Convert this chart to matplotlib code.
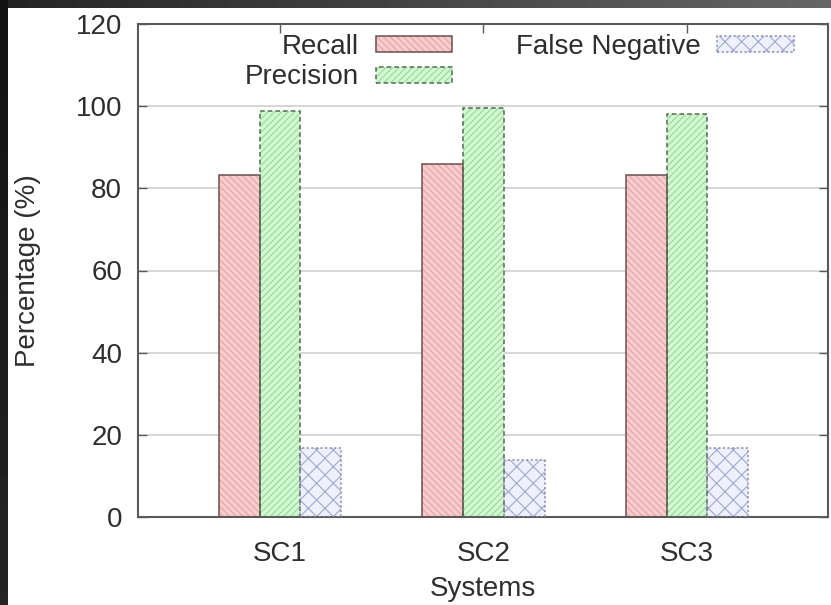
import numpy as np
import matplotlib
matplotlib.use('Agg')
import matplotlib.pyplot as plt
from matplotlib.patches import Patch

# data
systems = ['SC1', 'SC2', 'SC3']
recall = [83.3, 86.0, 83.3]
precision = [98.9, 99.5, 98.1]
false_negative = [16.7, 13.9, 16.7]

series_names = ['Recall', 'Precision', 'False Negative']

plt.rcParams['font.family'] = ['Liberation Sans', 'DejaVu Sans']
plt.rcParams['font.size'] = 20
plt.rcParams['hatch.linewidth'] = 0.8

W, H = 831, 605
fig = plt.figure(figsize=(W / 100, H / 100), dpi=100)
fig.patch.set_facecolor('white')

# dark frame round the screenshot (top and left)
top_band = fig.add_axes([0, 1 - 8 / H, 1, 8 / H])
top_band.imshow(np.linspace(0.14, 0.40, 256).reshape(1, -1), cmap='gray', vmin=0, vmax=1,
                aspect='auto', extent=[0, 1, 0, 1])
top_band.axis('off')
left_band = fig.add_axes([0, 0, 8 / W, 1])
left_band.imshow(np.linspace(0.07, 0.15, 256).reshape(-1, 1), cmap='gray', vmin=0, vmax=1,
                 aspect='auto', extent=[0, 1, 0, 1])
left_band.axis('off')

ax = fig.add_axes([137.5 / W, 88 / H, 690.5 / W, 493 / H])

x = np.arange(len(systems))
width = 0.2
styles = [
    # face, hatch colour, hatch, edge colour, edge style
    ('#f6cccc', '#e6a3a3', '\\\\\\\\\\', '#6b4f4f', '-'),
    ('#d3f6d3', '#98da98', '/////', '#4f6b4f', (0, (3, 2))),
    ('#eef0fb', '#a2a8d0', 'xx', '#8a8fb0', (0, (1.5, 1.5))),
]
handles = []
for i, vals in enumerate([recall, precision, false_negative]):
    fc, hc, hatch, ec, ls = styles[i]
    pos = x + (i - 1) * width
    ax.bar(pos, vals, width, color=fc, edgecolor=hc, hatch=hatch, linewidth=0, zorder=2)
    ax.bar(pos, vals, width, fill=False, edgecolor=ec, linestyle=ls, linewidth=1.1, zorder=3)
    handles.append((Patch(facecolor=fc, edgecolor=hc, hatch=hatch, linewidth=0),
                    Patch(fill=False, edgecolor=ec, linestyle=ls, linewidth=1.1)))

ax.set_xlim(-0.70, 2.693)
ax.set_ylim(0, 120)
ax.set_yticks(range(0, 121, 20))
ax.set_xticks(x)
ax.set_xticklabels(systems)
ax.yaxis.grid(True, color='#cfcfcf', linewidth=1.2)
ax.set_axisbelow(True)

for s in ax.spines.values():
    s.set_color('#5a5a5a')
    s.set_linewidth(1.5)
ax.tick_params(axis='y', direction='in', length=6.5, width=1, color='#5a5a5a',
               left=True, right=True, pad=11, labelcolor='#2e2e2e')
ax.tick_params(axis='x', direction='in', length=6.5, width=1, color='#5a5a5a',
               bottom=False, top=True, pad=17, labelcolor='#2e2e2e')

ax.set_ylabel('Percentage (%)', color='#2e2e2e')
ax.yaxis.set_label_coords(-0.14, 0.5)
ax.set_xlabel('Systems', color='#2e2e2e')
ax.xaxis.set_label_coords(0.5, -0.12)

ax.legend(handles, series_names, ncol=2, markerfirst=False, frameon=False,
          loc='upper left', bbox_to_anchor=(245 / W, 1 - 34 / H),
          bbox_transform=fig.transFigure, borderpad=0, borderaxespad=0,
          handlelength=2.75, handleheight=0.5, handletextpad=0.6,
          columnspacing=2.3, labelspacing=0.16, labelcolor='#2e2e2e')

fig.savefig('out.png', dpi=100, facecolor='white')
